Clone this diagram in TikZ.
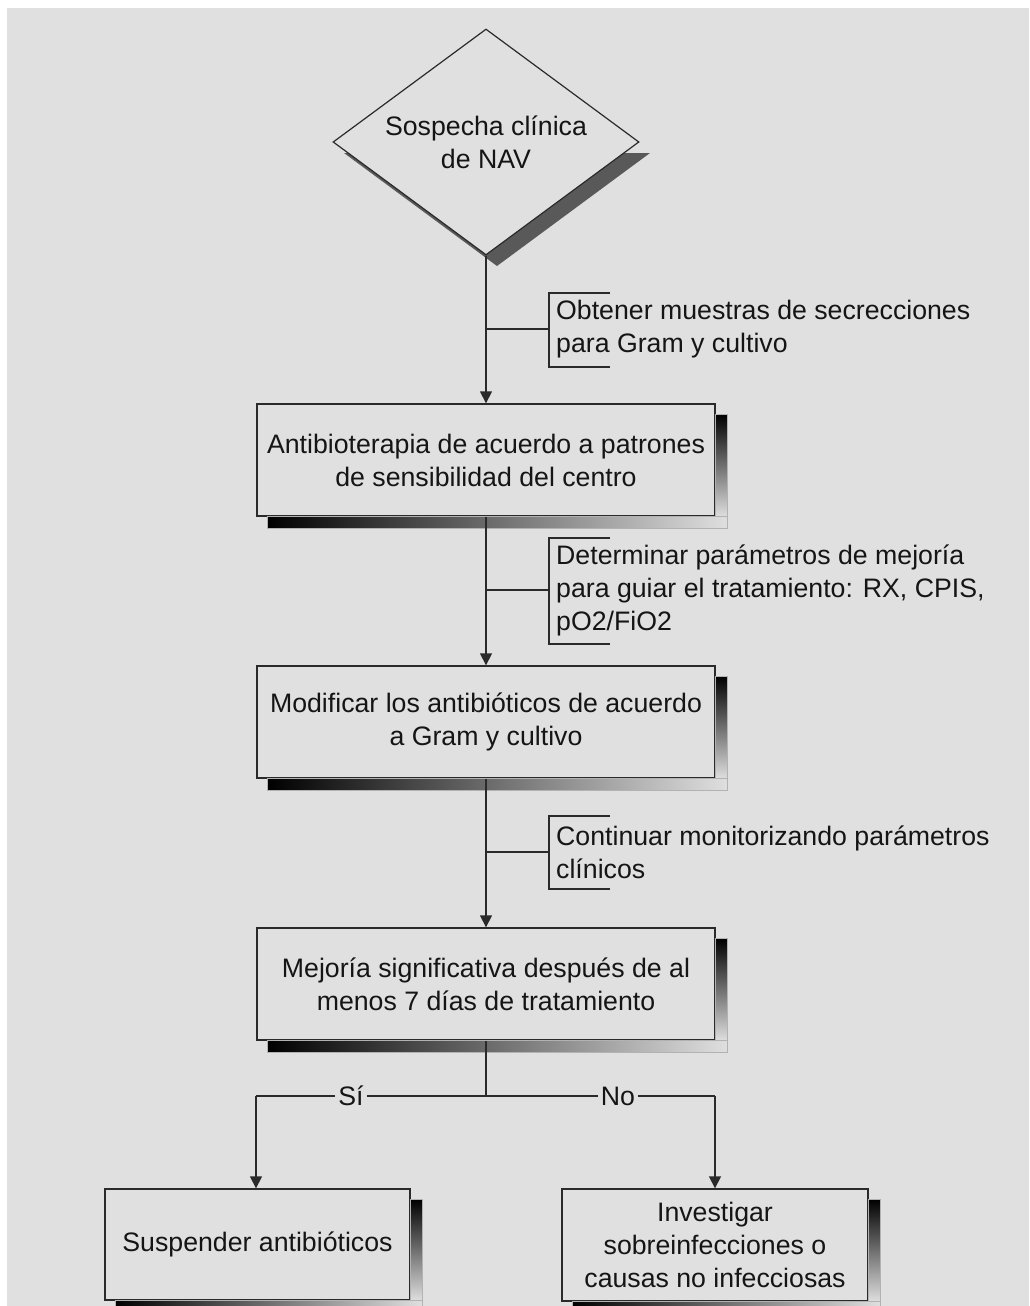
\documentclass[tikz,border=0pt]{standalone}
\usepackage{fontspec}
\setmainfont{Liberation Sans}
\usetikzlibrary{shapes.geometric,arrows.meta,calc}
\definecolor{bg}{HTML}{E0E0E0}
\definecolor{ln}{HTML}{2A2A2A}
\definecolor{tx}{HTML}{151515}
\tikzset{
  box/.style={draw=ln, line width=1.4pt, fill=bg, align=center, text=tx,
    minimum height=112pt, inner sep=0pt, font=\fontsize{26.7}{33}\selectfont},
  conn/.style={draw=ln, line width=1.6pt},
  arr/.style={conn, -{Triangle[length=12pt,width=12pt]}},
  note/.style={anchor=west, align=left, text=tx, inner sep=0pt,
    font=\fontsize{26.7}{33}\selectfont},
  brk/.style={draw=ln, line width=1.4pt},
  lbl/.style={fill=bg, text=tx, inner sep=3pt, font=\fontsize{26.7}{30}\selectfont},
}
\newcommand{\boxshadow}[1]{%
  \shade[left color=black, right color=gray!25, draw=gray!60, line width=0.6pt]
    ($(#1.south west)+(11,0)$) rectangle ($(#1.south east)+(12,12)$);
  \shade[top color=black, bottom color=gray!25, draw=gray!60, line width=0.6pt]
    ($(#1.north east)+(0,11)$) rectangle ($(#1.south east)+(12,0)$);
}
\begin{document}
\begin{tikzpicture}[x=1pt,y=-1pt]
\useasboundingbox (0,0) rectangle (1029,1306);
\fill[white] (0,0) rectangle (1029,1306);
\fill[bg] (7,8) rectangle (1029,1306);

% diamond shadow
\fill[black!65] (497,153) -- (650,153) -- (497,266) -- (344,153) -- cycle;
\node[diamond, draw=ln, line width=1.2pt, fill=bg, minimum width=306pt, minimum height=226pt,
  inner sep=0pt] (d) at (486,142) {};
\node[align=center, text=tx, inner sep=0pt, font=\fontsize{26.7}{33}\selectfont]
  (dt) at (d.center) {Sospecha clínica\\de NAV};

\node[box, minimum width=458pt] (b1) at (486,460) {Antibioterapia de acuerdo a patrones\\de sensibilidad del centro};
\node[box, minimum width=458pt] (b2) at (486,722) {Modificar los antibióticos de acuerdo\\a Gram y cultivo};
\node[box, minimum width=458pt] (b3) at (486,984) {Mejoría significativa después de al\\menos 7 días de tratamiento};
\node[box, minimum width=305pt, minimum height=111pt] (b4) at (257.5,1244.5) {Suspender antibióticos};
\node[box, minimum width=306pt, minimum height=112pt] (b5) at (715,1245) {Investigar\\sobreinfecciones o\\causas no infecciosas};
\boxshadow{b1}\boxshadow{b2}\boxshadow{b3}\boxshadow{b4}\boxshadow{b5}

% main connectors
\draw[arr] (d.south) -- (b1.north);
\draw[arr] (b1.south) -- (b2.north);
\draw[arr] (b2.south) -- (b3.north);

% annotations
\coordinate (j1) at (486,329); \coordinate (k1) at (549,329);
\draw[conn] (j1) -- (k1);
\draw[brk] (610,293) -- (549,293) -- (549,367) -- (610,367);
\node[note] (t1) at (556,329) {Obtener muestras de secrecciones\\para Gram y cultivo};

\coordinate (j2) at (486,590); \coordinate (k2) at (549,590);
\draw[conn] (j2) -- (k2);
\draw[brk] (610,538) -- (549,538) -- (549,644) -- (610,644);
\node[note] (t2) at (556,590) {Determinar parámetros de mejoría\\para guiar el tratamiento: RX, CPIS,\\pO2/FiO2};

\coordinate (j3) at (486,852); \coordinate (k3) at (549,852);
\draw[conn] (j3) -- (k3);
\draw[brk] (610,816) -- (549,816) -- (549,889) -- (610,889);
\node[note] (t3) at (556,852) {Continuar monitorizando parámetros\\clínicos};

% decision branches
\coordinate (j4) at (486,1096);
\coordinate (l4) at (256,1096);
\coordinate (r4) at (715,1096);
\draw[conn] (b3.south) -- (j4);
\draw[conn] (j4) -- (l4);
\draw[conn] (j4) -- (r4);
\draw[arr] (l4) -- (l4 |- b4.north);
\draw[arr] (r4) -- (r4 |- b5.north);
\node[lbl] (si) at (351,1096) {Sí};
\node[lbl] (no) at (618,1096) {No};
\end{tikzpicture}
\end{document}
